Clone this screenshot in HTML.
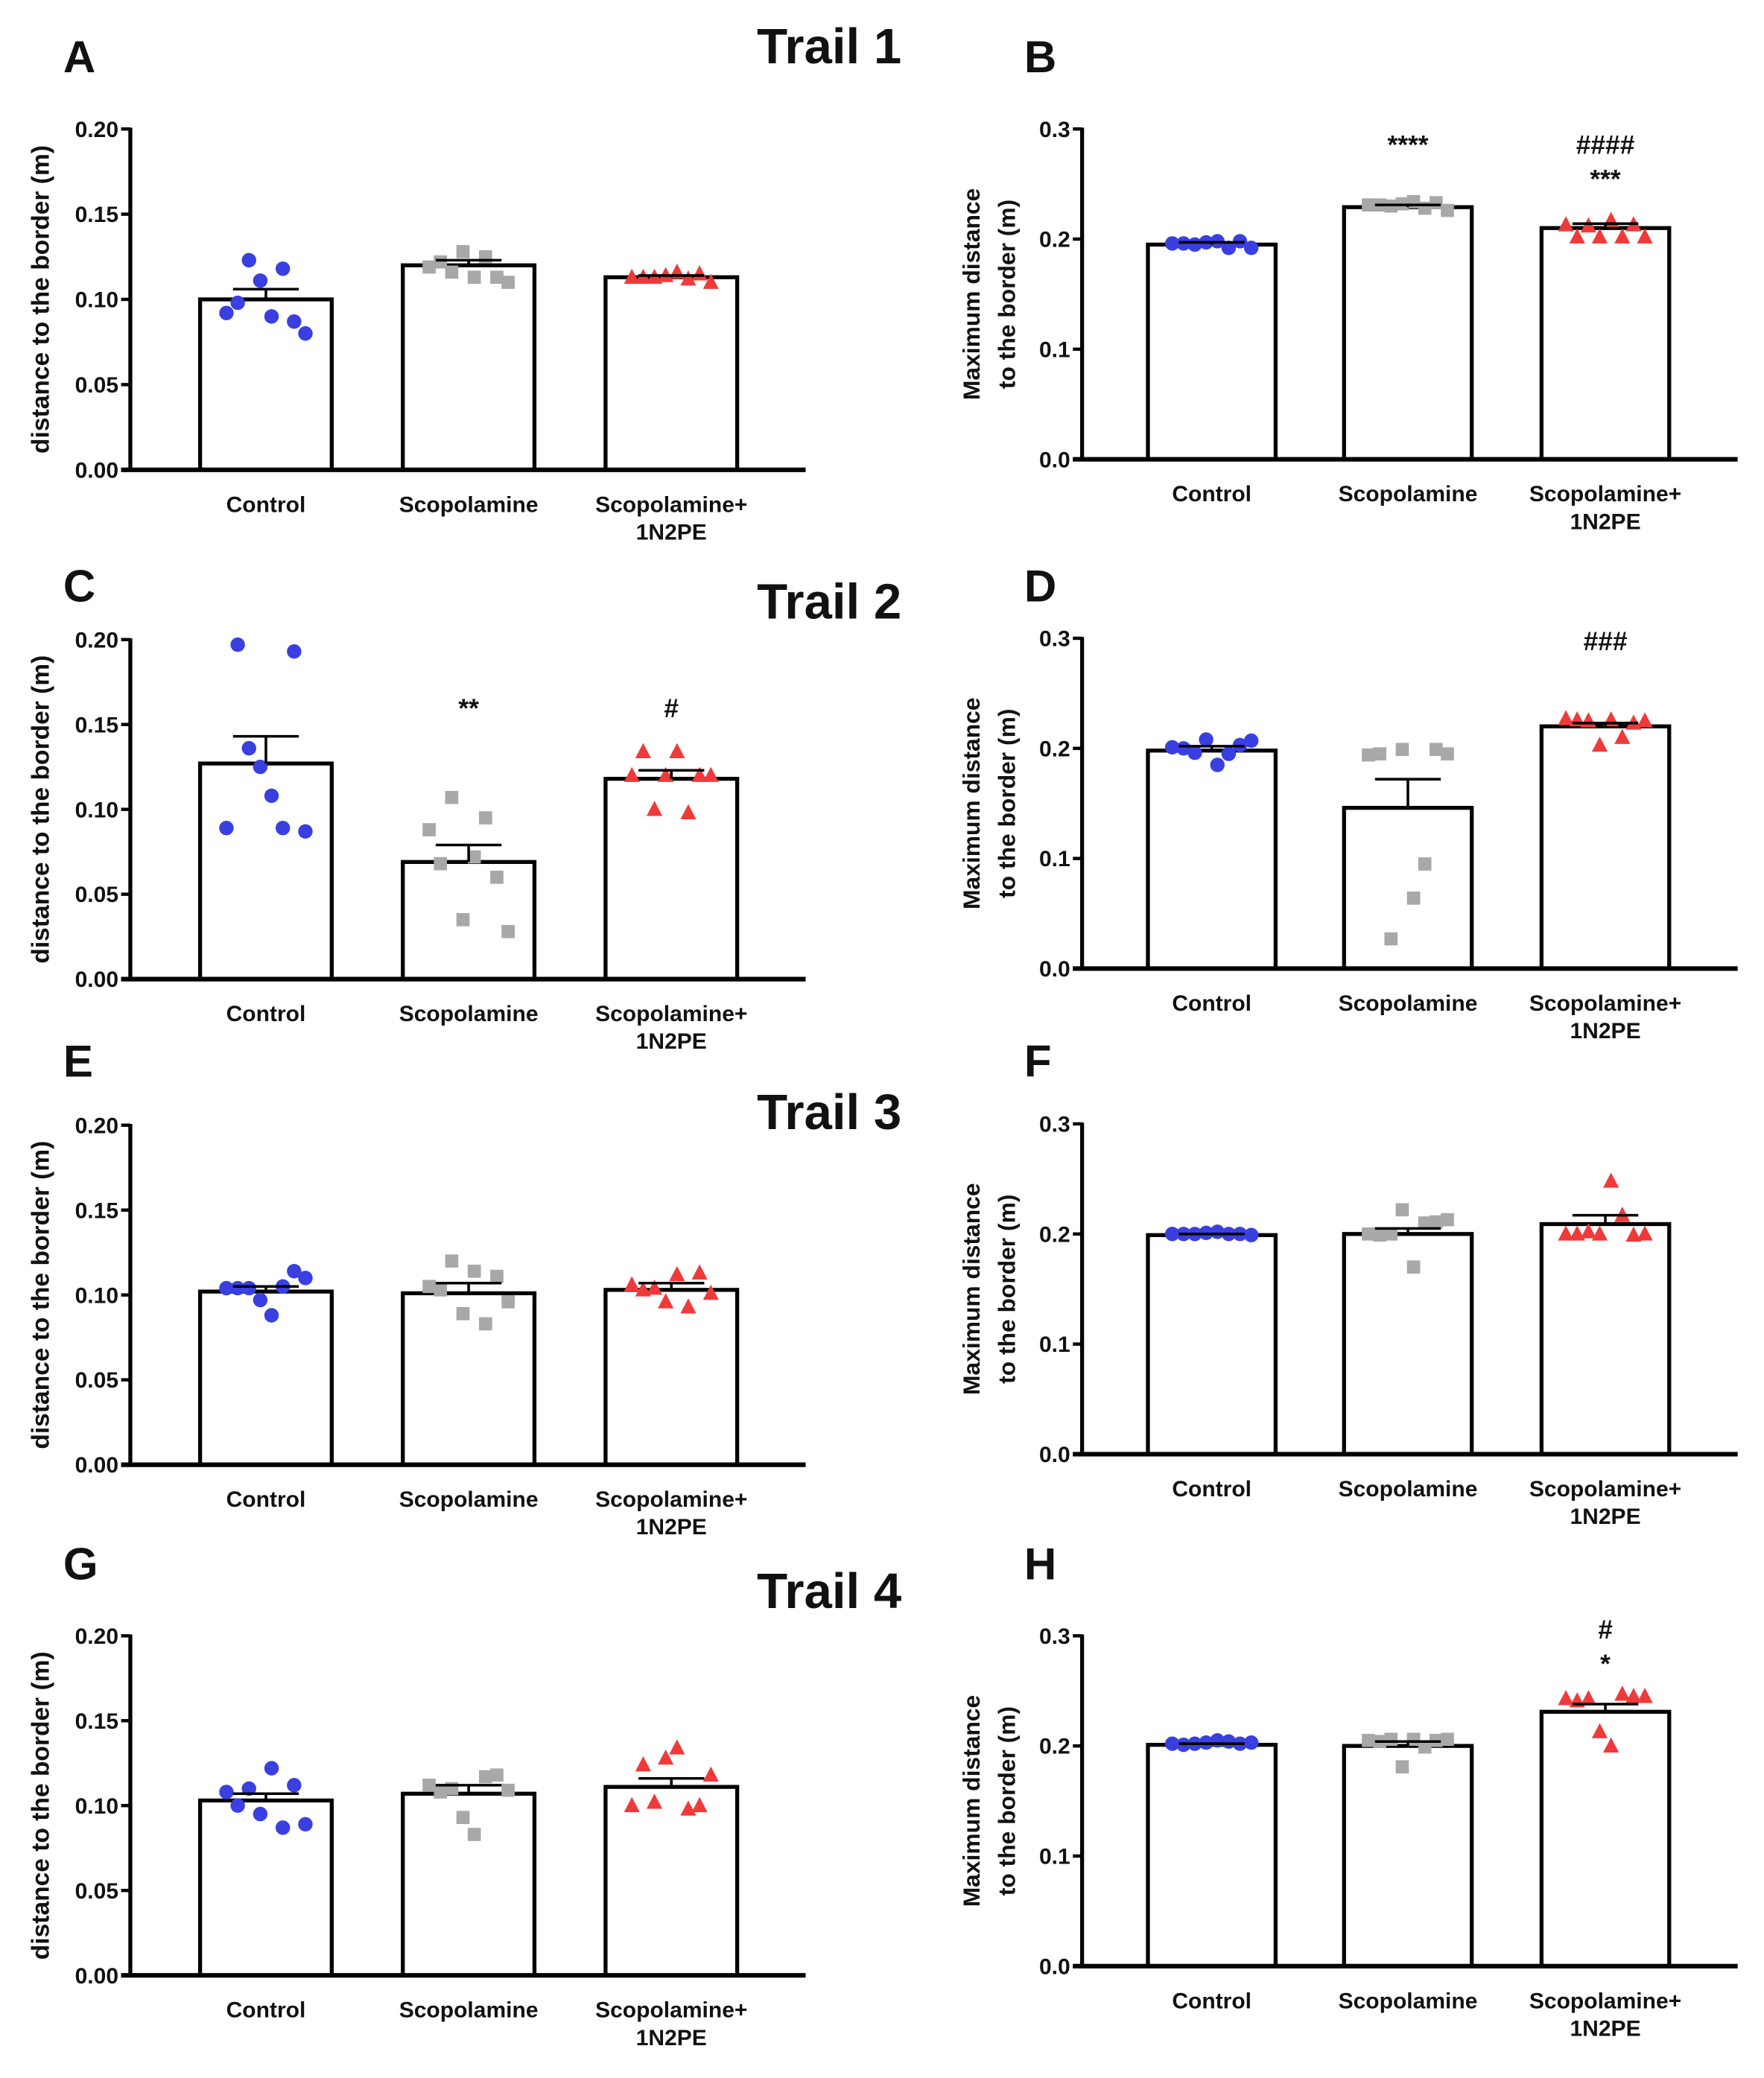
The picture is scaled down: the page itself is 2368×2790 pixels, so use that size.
<!DOCTYPE html>
<html><head><meta charset="utf-8"><style>
html,body{margin:0;padding:0;background:#fff;}
svg{display:block;}
text{font-family:"Liberation Sans",sans-serif;font-weight:bold;fill:#111;}
</style></head><body>
<svg id="fig" xmlns="http://www.w3.org/2000/svg" width="2368" height="2790" viewBox="0 0 1340 1579" preserveAspectRatio="none"></svg>
<script>
const categories = ["Control", "Scopolamine", "Scopolamine+|1N2PE"];
const panelLetters = ["A","B","C","D","E","F","G","H"];
const trailTitles = ["Trail 1","Trail 2","Trail 3","Trail 4"];
const leftTicks = ["0.00","0.05","0.10","0.15","0.20"];
const rightTicks = ["0.0","0.1","0.2","0.3"];
// means
const meansA = [0.100,0.120,0.113]; const semA=[0.006,0.003,0.001];
const meansB = [0.195,0.229,0.210]; const semB=[0.002,0.002,0.004];
const meansC = [0.127,0.069,0.118]; const semC=[0.016,0.010,0.005];
const meansD = [0.198,0.146,0.220]; const semD=[0.004,0.026,0.003];
const meansE = [0.102,0.101,0.103]; const semE=[0.003,0.006,0.004];
const meansF = [0.199,0.200,0.209]; const semF=[0.001,0.005,0.008];
const meansG = [0.103,0.107,0.111]; const semG=[0.004,0.005,0.005];
const meansH = [0.201,0.200,0.231]; const semH=[0.001,0.004,0.007];
// individual points
const ptsA = [[0.092,0.098,0.123,0.111,0.090,0.118,0.087,0.080],[0.119,0.122,0.116,0.128,0.113,0.125,0.113,0.110],[0.113,0.113,0.113,0.114,0.116,0.112,0.115,0.110]];
const ptsB = [[0.196,0.196,0.195,0.197,0.198,0.192,0.198,0.192],[0.231,0.231,0.230,0.232,0.234,0.228,0.233,0.226],[0.213,0.202,0.212,0.202,0.217,0.202,0.213,0.202]];
const ptsC = [[0.089,0.197,0.136,0.125,0.108,0.089,0.193,0.087],[0.088,0.068,0.107,0.035,0.072,0.095,0.060,0.028],[0.120,0.134,0.100,0.120,0.134,0.098,0.120,0.120]];
const ptsD = [[0.201,0.200,0.196,0.208,0.185,0.195,0.203,0.207],[0.194,0.195,0.027,0.199,0.064,0.095,0.199,0.195],[0.227,0.226,0.225,0.203,0.226,0.210,0.223,0.225]];
const ptsE = [[0.104,0.104,0.104,0.097,0.088,0.105,0.114,0.110],[0.105,0.103,0.120,0.089,0.114,0.083,0.111,0.096],[0.106,0.103,0.104,0.096,0.112,0.093,0.113,0.101]];
const ptsF = [[0.200,0.200,0.200,0.201,0.202,0.200,0.200,0.199],[0.200,0.199,0.200,0.222,0.170,0.210,0.211,0.213],[0.200,0.200,0.202,0.200,0.248,0.217,0.199,0.200]];
const ptsG = [[0.108,0.100,0.110,0.095,0.122,0.087,0.112,0.089],[0.112,0.108,0.110,0.093,0.083,0.117,0.118,0.109],[0.100,0.124,0.102,0.128,0.134,0.098,0.100,0.118]];
const ptsH = [[0.202,0.201,0.202,0.203,0.205,0.204,0.202,0.203],[0.205,0.204,0.206,0.181,0.206,0.199,0.205,0.206],[0.243,0.241,0.243,0.213,0.200,0.247,0.245,0.245]];
const annotB = ["", "****", "####|***"];
const annotC = ["", "**", "#"];
const annotD = ["", "", "###"];
const annotH = ["", "", "#|*"];

const NS="http://www.w3.org/2000/svg";
const svg=document.getElementById('fig');
function el(tag,attrs,parent){const e=document.createElementNS(NS,tag);for(const k in attrs)e.setAttribute(k,attrs[k]);(parent||svg).appendChild(e);return e;}
const colors=["#3a3fe0","#a8a8a8","#f03a3a"];

function panel(opts){
  const g=el('g',{});
  
  
  const x0=opts.ax, top=opts.top, bot=opts.bot, ymax=opts.ymax;
  const yS=v=>bot-(v/ymax)*(bot-top);
  const L=el('text',{x:opts.lx,y:opts.ly,'font-size':34},g);L.textContent=opts.letter;
  
  
  const ya=el('line',{x1:x0,y1:top-1,x2:x0,y2:bot+1.5,stroke:'#000','stroke-width':3},g);
  
  
  opts.ticks.forEach((t,i)=>{
    const v=parseFloat(t);const y=yS(v);
    el('line',{x1:x0-7,y1:y,x2:x0,y2:y,stroke:'#000','stroke-width':2.5},g);
    const tt=el('text',{x:x0-9,y:y+6,'font-size':17,'text-anchor':'end'},g);tt.textContent=t;
    
    
  });
  const ty=el('text',{transform:`translate(${opts.tx},${(top+bot)/2}) rotate(-90)`,'font-size':opts.tfs,'text-anchor':'middle'},g);
  
  
  opts.title.forEach((line,i)=>{const ts=el('tspan',{x:0,dy:i?27:0},ty);ts.textContent=line;});
  opts.bars.forEach((bx,i)=>{
    const cx=bx+opts.bw/2;const m=opts.means[i];const ym=yS(m);
    const r=el('rect',{x:bx,y:ym,width:opts.bw,height:bot-ym,fill:'#fff',stroke:'#000','stroke-width':3},g);
    
    
    opts.pts[i].forEach((v,j)=>{
      const px=cx+(j-3.5)/3.5*30;const py=yS(v);let p;
      if(i===0)p=el('circle',{cx:px,cy:py,r:5.5,fill:colors[0]},g);
      else if(i===1)p=el('rect',{x:px-5,y:py-5,width:10,height:10,fill:colors[1]},g);
      else p=el('polygon',{points:`${px},${py-6.5} ${px+6},${py+5} ${px-6},${py+5}`,fill:colors[2]},g);
      
      
    });
    const ye=yS(m+opts.sem[i]);
    const eb=el('path',{d:`M${cx},${ym} L${cx},${ye} M${cx-25},${ye} L${cx+25},${ye}`,stroke:'#000','stroke-width':2,fill:'none'},g);
    
    
    if(opts.annot&&opts.annot[i]){
      const parts=opts.annot[i].split('|');
      parts.forEach((s,k)=>{
        const at=el('text',{x:cx,y:opts.annY+k*26,'font-size':20,'text-anchor':'middle','font-weight':'normal'},g);at.textContent=s;
        
        
      });
    }
    categories[i].split('|').forEach((line,k)=>{
      const ct=el('text',{x:cx,y:bot+32+k*21,'font-size':17,'text-anchor':'middle'},g);ct.textContent=line;
      
      
    });
  });
  const xa=el('line',{x1:x0-7,y1:bot,x2:opts.xend,y2:bot,stroke:'#000','stroke-width':3.5},g);
  
  
}
const leftBars=[152,306,460], rightBars=[872,1021,1171];
const rows=[
 {lt:98,lb:357,rt:98,rb:349,ly:55,trY:48},
 {lt:486,lb:744,rt:485,rb:736,ly:457,trY:470},
 {lt:855,lb:1113,rt:854,rb:1105,ly:818,trY:858},
 {lt:1243,lb:1501,rt:1243,rb:1494,ly:1200,trY:1222}];
const L=[[meansA,semA,ptsA,null],[meansC,semC,ptsC,annotC],[meansE,semE,ptsE,null],[meansG,semG,ptsG,null]];
const R=[[meansB,semB,ptsB,annotB],[meansD,semD,ptsD,annotD],[meansF,semF,ptsF,null],[meansH,semH,ptsH,annotH]];
const annYL=[0,545,0,0], annYR=[117,494,0,1245];
rows.forEach((r,i)=>{
  panel({letter:panelLetters[2*i],lx:48,ly:r.ly,ax:99,top:r.lt,bot:r.lb,ymax:0.2,ticks:leftTicks,tx:37,tfs:19,title:["distance to the border (m)"],
    bars:leftBars,bw:100,means:L[i][0],sem:L[i][1],pts:L[i][2],annot:L[i][3],annY:annYL[i],xend:612});
  panel({letter:panelLetters[2*i+1],lx:778,ly:r.ly,ax:822,top:r.rt,bot:r.rb,ymax:0.3,ticks:rightTicks,tx:744,tfs:18,title:["Maximum distance","to the border (m)"],
    bars:rightBars,bw:97,means:R[i][0],sem:R[i][1],pts:R[i][2],annot:R[i][3],annY:annYR[i],xend:1320});
  const t=el('text',{x:575,y:r.trY,'font-size':38});t.textContent=trailTitles[i];
  
  
});
</script>
</body></html>
